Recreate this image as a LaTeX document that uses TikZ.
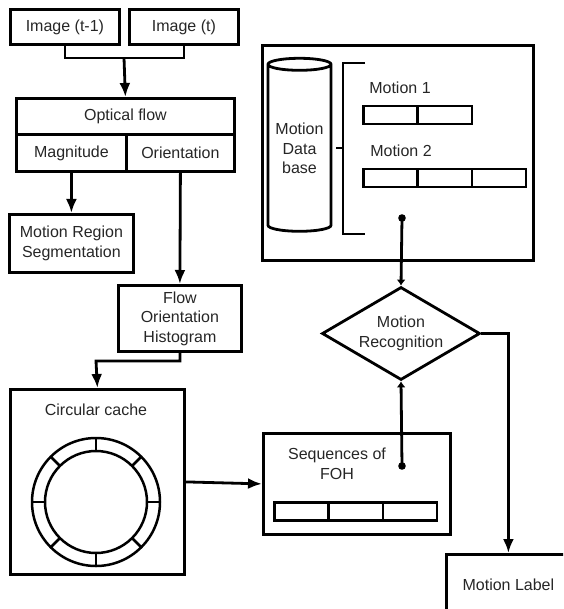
\documentclass[tikz,border=0pt]{standalone}
\usepackage{fontspec}
\setmainfont{Liberation Sans}
\usetikzlibrary{arrows.meta,shapes.geometric}
\tikzset{>={Latex[length=14pt,width=11pt]}}
\tikzset{every node/.style={font=\fontsize{16}{19.5}\selectfont,text=black!85},
  box/.style={draw,line width=2.8pt,anchor=north west,align=center,inner sep=0pt},
  cell/.style={draw,line width=2.5pt,anchor=north west,minimum width=54.3pt,minimum height=18pt,inner sep=0pt},
  link/.style={line width=2.8pt},
  small tip/.style={-{Latex[length=6pt,width=9pt]}}}

\begin{document}
\begin{tikzpicture}[x=1pt,y=-1pt]
\clip (0,0) rectangle (563,609);

% input frames and optical flow
\node[box,minimum width=109pt,minimum height=35pt] (img1) at (9,8) {Image (t-1)};
\node[box,minimum width=109pt,minimum height=35pt] (img2) at (128,8) {Image (t)};
\node[box,minimum width=218pt,minimum height=36pt] (flow) at (15,97) {Optical flow};
\node[box,minimum width=110pt,minimum height=37pt] (mag) at (15,133) {Magnitude};
\node[box,minimum width=108pt,minimum height=37pt] (ori) at (125,133) {Orientation};
\node[box,minimum width=124pt,minimum height=58pt] (seg) at (8,213) {Motion Region\\Segmentation};
\node[box,minimum width=123pt,minimum height=66pt] (foh) at (117,284) {Flow\\Orientation\\Histogram};

\coordinate (join) at (124,58);
\draw[link] (img1.south) |- (join) -| (img2.south);
\draw[link,->] (join) -- (flow.north);
\draw[link,->] (mag.south) -- (seg.north);
\draw[link,->] (ori.south) -- (foh.north);

% circular cache
\node[box,minimum width=174pt,minimum height=185pt] (cache) at (9,388) {};
\node (cachetxt) at (96,410) {Circular cache};
\coordinate (ring) at (96,502);
\draw[line width=2.5pt] (ring) circle[radius=64pt] (ring) circle[radius=51pt];
\foreach \a in {0,45,...,315}
  \draw[line width=2.5pt] ([shift={(\a:51pt)}]ring) -- ([shift={(\a:64pt)}]ring);
\draw[link,->] (foh.south) |- (96,361) -- (cache.north);

% sequences of FOH
\node[box,minimum width=187pt,minimum height=101pt] (seq) at (262,432) {};
\node[align=center] (seqtxt) at (337,464) {Sequences of\\FOH};
\foreach \i in {0,1,2}
  \node[cell] (s\i) at ({273+54.3*\i},501) {};
\draw[link,->] (cache.east) -- (seq.west);

% motion database
\node[box,minimum width=271pt,minimum height=215pt] (db) at (261,44) {};
\node[draw,line width=2.8pt,cylinder,shape border rotate=90,aspect=0.25,
  minimum width=63pt,minimum height=173pt,inner sep=0pt,align=center,fill=white] (cyl) at (299.5,148.5) {Motion\\Data\\base};
\draw[link] (365,63) -- (343,63) -- (343,234) -- (365,234) (343,148) -- (336,148);
\node (m1) at (400,88) {Motion 1};
\foreach \i in {0,1}
  \node[cell] (a\i) at ({362+54.5*\i},105) {};
\node (m2) at (401,151) {Motion 2};
\foreach \i in {0,1,2}
  \node[cell] (b\i) at ({362+54.3*\i},168) {};

% recognition
\node[draw,line width=2.8pt,diamond,aspect=1.7,minimum width=158pt,minimum height=93pt,
  inner sep=0pt,align=center] (rec) at (401,333.5) {Motion\\Recognition};
\coordinate (dbdot) at (402,218);
\coordinate (seqdot) at (402,466);
\fill (dbdot) circle (3.8pt) (seqdot) circle (3.8pt);
\draw[link,small tip] (dbdot) -- (rec.north);
\draw[link,small tip] (seqdot) -- (rec.south);

\node[box,minimum width=124pt,minimum height=60pt] (lab) at (445,553) {Motion Label};
\draw[link,->] (rec.east) -| (lab.north);
\end{tikzpicture}
\end{document}
